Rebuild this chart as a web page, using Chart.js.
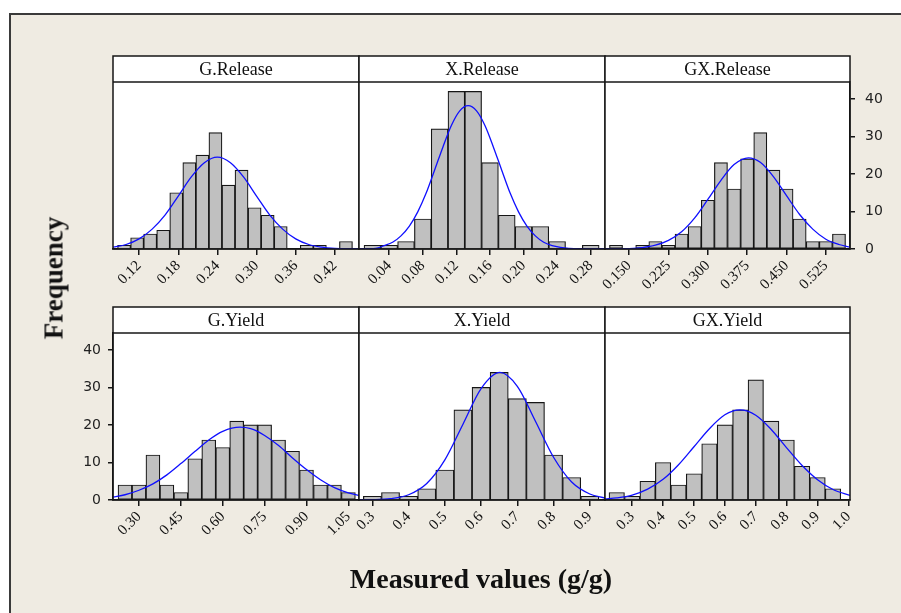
<!DOCTYPE html>
<html>
<head>
<meta charset="utf-8">
<script src="https://cdn.jsdelivr.net/npm/chart.js@4"></script>
<style>
  html, body { margin:0; padding:0; background:#fff; width:901px; height:613px; overflow:hidden; }
  #frame { position:absolute; left:9px; top:13px; width:900px; height:610px; background:#EFEBE2;
           border-top:2px solid #3a3a3a; border-left:2px solid #3a3a3a; }
  canvas { position:absolute; }
  .ytitle { position:absolute; left:54px; top:278px; transform:translate(-50%,-50%) rotate(-90deg);
            font:bold 27px "Liberation Serif"; color:#111; white-space:nowrap; }
  .xtitle { position:absolute; left:481px; top:579px; transform:translate(-50%,-50%);
            font:bold 28px "Liberation Serif"; color:#111; white-space:nowrap; }
</style>
</head>
<body>
<div id="frame"></div>
<div id="panels"></div>
<div class="ytitle">Frequency</div>
<div class="xtitle">Measured values (g/g)</div>
<script>
// --- data (N = 175 in every panel) ---
const yTicks = [0, 10, 20, 30, 40];

// G.Release
const gRelBins   = [0.097,0.117,0.137,0.157,0.177,0.197,0.217,0.237,0.257,0.277,0.297,0.317,0.337,0.357,0.377,0.397,0.417,0.437];
const gRelCounts = [1,3,4,5,15,23,25,31,17,21,11,9,6,0,1,1,0,2];
const gRelCurveX = [0.080,0.100,0.120,0.140,0.160,0.180,0.200,0.220,0.240,0.260,0.280,0.300,0.320,0.340,0.360,0.380,0.400,0.420,0.440,0.457];
const gRelCurveY = [0.5,1.2,2.7,5.3,9.1,14.1,19.2,23.0,24.5,23.0,19.2,14.1,9.1,5.3,2.7,1.2,0.5,0.17,0.05,0.02];
const gRelTicks  = ['0.12','0.18','0.24','0.30','0.36','0.42'];
const gRelRange  = [0.080, 0.457];

// X.Release
const xRelBins   = [0.02,0.04,0.06,0.08,0.10,0.12,0.14,0.16,0.18,0.20,0.22,0.24,0.26,0.28];
const xRelCounts = [1,1,2,8,32,42,42,23,9,6,6,2,0,1];
const xRelCurveX = [0.004,0.024,0.034,0.044,0.054,0.064,0.074,0.084,0.094,0.104,0.114,0.124,0.134,0.144,0.154,0.164,0.174,0.184,0.194,0.204,0.214,0.224,0.234,0.254,0.297];
const xRelCurveY = [0.02,0.17,0.9,1.8,3.5,6.1,9.9,14.9,21.0,27.2,32.9,36.8,38.2,36.8,32.9,27.2,21.0,14.9,9.9,6.1,3.5,1.8,0.9,0.17,0];
const xRelTicks  = ['0.04','0.08','0.12','0.16','0.20','0.24','0.28'];
const xRelRange  = [0.004, 0.297];

// GX.Release
const gxRelBins   = [0.125,0.150,0.175,0.200,0.225,0.250,0.275,0.300,0.325,0.350,0.375,0.400,0.425,0.450,0.475,0.500,0.525,0.550];
const gxRelCounts = [1,0,1,2,1,4,6,13,23,16,24,31,21,16,8,2,2,4];
const gxRelCurveX = [0.104,0.150,0.175,0.200,0.225,0.250,0.275,0.300,0.325,0.350,0.3775,0.400,0.425,0.450,0.475,0.500,0.525,0.550,0.571];
const gxRelCurveY = [0.01,0.12,0.37,1.0,2.3,4.6,8.3,13.2,18.3,22.5,24.3,23.1,19.3,14.2,9.2,5.3,2.6,1.2,0.5];
const gxRelTicks  = ['0.150','0.225','0.300','0.375','0.450','0.525'];
const gxRelRange  = [0.104, 0.571];

// G.Yield
const gYBins   = [0.25,0.30,0.35,0.40,0.45,0.50,0.55,0.60,0.65,0.70,0.75,0.80,0.85,0.90,0.95,1.00,1.05];
const gYCounts = [4,4,12,4,2,11,16,14,21,20,20,16,13,8,4,4,2];
const gYCurveX = [0.207,0.25,0.30,0.35,0.40,0.45,0.50,0.55,0.60,0.662,0.70,0.75,0.80,0.85,0.90,0.95,1.00,1.05,1.088];
const gYCurveY = [0.8,1.4,2.6,4.3,6.7,9.7,12.9,16.0,18.3,19.4,19.0,17.2,14.5,11.2,8.1,5.4,3.3,1.9,1.2];
const gYTicks  = ['0.30','0.45','0.60','0.75','0.90','1.05'];
const gYRange  = [0.207, 1.088];

// X.Yield
const xYBins   = [0.30,0.35,0.40,0.45,0.50,0.55,0.60,0.65,0.70,0.75,0.80,0.85,0.90];
const xYCounts = [1,2,1,3,8,24,30,34,27,26,12,6,1];
const xYCurveX = [0.263,0.30,0.35,0.40,0.45,0.50,0.55,0.60,0.652,0.70,0.75,0.80,0.85,0.90,0.942];
const xYCurveY = [0.02,0.07,0.36,1.4,4.4,10.7,20.2,29.7,34.0,30.3,21.0,11.4,4.8,1.6,0.5];
const xYTicks  = ['0.3','0.4','0.5','0.6','0.7','0.8','0.9'];
const xYRange  = [0.263, 0.942];

// GX.Yield
const gxYBins   = [0.25,0.30,0.35,0.40,0.45,0.50,0.55,0.60,0.65,0.70,0.75,0.80,0.85,0.90,0.95];
const gxYCounts = [2,1,5,10,4,7,15,20,24,32,21,16,9,6,3];
const gxYCurveX = [0.212,0.25,0.30,0.35,0.40,0.45,0.50,0.55,0.60,0.649,0.70,0.75,0.80,0.85,0.90,0.95,1.005];
const gxYCurveY = [0.26,0.54,1.3,2.9,5.5,9.4,14.2,19.0,22.7,24.0,22.6,18.8,13.9,9.2,5.4,2.8,1.2];
const gxYTicks  = ['0.3','0.4','0.5','0.6','0.7','0.8','0.9','1.0'];
const gxYRange  = [0.212, 1.005];

// --- layout ---
const COLS = [113, 359, 605, 850];
const ROWS = [{head:56, top:82, bottom:249}, {head:307, top:333, bottom:500}];
const SIDE = 60, XAXIS_H = 60, YAXIS_W = 50;
const INK = '#161616';

const panels = [
  {title:'G.Release',  bins:gRelBins,  counts:gRelCounts,  cx:gRelCurveX,  cy:gRelCurveY,  ticks:gRelTicks,  range:gRelRange,  col:0, row:0},
  {title:'X.Release',  bins:xRelBins,  counts:xRelCounts,  cx:xRelCurveX,  cy:xRelCurveY,  ticks:xRelTicks,  range:xRelRange,  col:1, row:0},
  {title:'GX.Release', bins:gxRelBins, counts:gxRelCounts, cx:gxRelCurveX, cy:gxRelCurveY, ticks:gxRelTicks, range:gxRelRange, col:2, row:0, yPos:'right'},
  {title:'G.Yield',    bins:gYBins,    counts:gYCounts,    cx:gYCurveX,    cy:gYCurveY,    ticks:gYTicks,    range:gYRange,    col:0, row:1, yPos:'left'},
  {title:'X.Yield',    bins:xYBins,    counts:xYCounts,    cx:xYCurveX,    cy:xYCurveY,    ticks:xYTicks,    range:xYRange,    col:1, row:1},
  {title:'GX.Yield',   bins:gxYBins,   counts:gxYCounts,   cx:gxYCurveX,   cy:gxYCurveY,   ticks:gxYTicks,   range:gxYRange,   col:2, row:1}
];

// white plot + header strip, black frame, title text
const panelFrame = {
  id: 'panelFrame',
  beforeDraw(chart, args, o) {
    const {ctx, chartArea:a} = chart;
    ctx.save();
    ctx.fillStyle = '#fff';
    ctx.fillRect(a.left, a.top - o.head, a.right - a.left, a.bottom - a.top + o.head);
    ctx.restore();
  },
  afterDraw(chart, args, o) {
    const {ctx, chartArea:a} = chart;
    ctx.save();
    ctx.strokeStyle = INK; ctx.lineWidth = 1.5;
    ctx.strokeRect(a.left, a.top - o.head, a.right - a.left, a.bottom - a.top + o.head);
    ctx.beginPath(); ctx.moveTo(a.left, a.top); ctx.lineTo(a.right, a.top); ctx.stroke();
    ctx.fillStyle = '#111'; ctx.font = '18px "Liberation Serif"';
    ctx.textAlign = 'center'; ctx.textBaseline = 'middle';
    ctx.fillText(o.title, (a.left + a.right) / 2, a.top - o.head / 2 + 1);
    ctx.restore();
  }
};

const host = document.getElementById('panels');
panels.forEach(p => {
  const r = ROWS[p.row];
  const left = COLS[p.col] - SIDE, w = COLS[p.col + 1] - COLS[p.col] + 2 * SIDE;
  const top = r.head - 4, h = r.bottom - top + XAXIS_H;
  const cv = document.createElement('canvas');
  cv.width = w; cv.height = h;
  cv.style.left = left + 'px'; cv.style.top = top + 'px';
  host.appendChild(cv);

  const pad = {left:SIDE, right:SIDE, top:r.top - top, bottom:0};
  if (p.yPos === 'right') pad.right = SIDE - YAXIS_W;
  if (p.yPos === 'left') pad.left = SIDE - YAXIS_W;

  new Chart(cv.getContext('2d'), {
    type: 'bar',
    data: {
      datasets: [
        {type:'line', data:p.cx.map((x, i) => ({x, y:p.cy[i]})), borderColor:'#0f0fff', borderWidth:1.3,
         pointRadius:0, fill:false, cubicInterpolationMode:'monotone', order:0},
        {type:'bar', data:p.bins.map((x, i) => ({x, y:p.counts[i]})), backgroundColor:'#c0c0c0',
         borderColor:INK, borderWidth:1.2, borderSkipped:false, barPercentage:1, categoryPercentage:1, order:1}
      ]
    },
    options: {
      responsive:false, animation:false, devicePixelRatio:1,
      layout:{padding:pad},
      plugins:{legend:{display:false}, tooltip:{enabled:false}, panelFrame:{title:p.title, head:r.top - r.head}},
      scales: {
        x: {
          type:'linear', min:p.range[0], max:p.range[1], offset:false,
          afterBuildTicks: s => { s.ticks = p.ticks.map(t => ({value:Number(t)})); },
          afterFit: s => { s.height = XAXIS_H; },
          grid:{offset:false, drawOnChartArea:false, drawTicks:true, tickLength:6, color:INK, lineWidth:1.5},
          border:{display:true, color:INK, width:1.5},
          ticks:{autoSkip:false, minRotation:45, maxRotation:45, padding:2, color:'#111',
                 font:{family:'Liberation Serif', size:15}, callback:(v, i) => p.ticks[i]}
        },
        y: {
          type:'linear', min:0, max:44.5, display:!!p.yPos, position:p.yPos || 'left',
          afterBuildTicks: s => { s.ticks = yTicks.map(v => ({value:v})); },
          afterFit: s => { if (p.yPos) s.width = YAXIS_W; },
          grid:{drawOnChartArea:false, drawTicks:true, tickLength:5, color:INK, lineWidth:1.5},
          border:{display:true, color:INK, width:1.5},
          ticks:{padding:p.yPos === 'right' ? 10 : 7, color:'#222', font:{family:'DejaVu Sans', size:14}}
        }
      }
    },
    plugins:[panelFrame]
  });
});
</script>
</body>
</html>
